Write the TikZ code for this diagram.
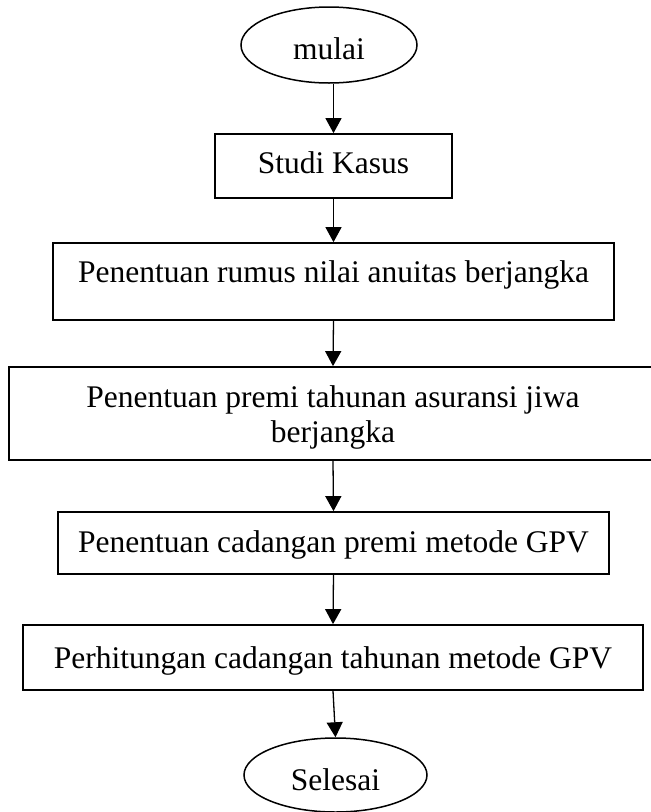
\documentclass[tikz,border=0pt]{standalone}
\usepackage{fontspec}
\setmainfont{Liberation Serif}
\usetikzlibrary{shapes.geometric,arrows.meta}
\tikzset{
  box/.style={draw, line width=1.7pt, inner sep=0pt, align=center,
    font=\fontsize{31.5}{35}\selectfont},
  oval/.style={draw, ellipse, line width=1.5pt, inner sep=0pt,
    font=\fontsize{31.5}{35}\selectfont},
  arr/.style={line width=1.3pt, -{Triangle[width=16pt,length=15pt]}},
}
\begin{document}
\begin{tikzpicture}[x=1pt,y=-1pt]
\useasboundingbox (0,0) rectangle (651,812);
\node[oval, minimum width=176pt, minimum height=76pt, text height=30pt, text depth=2pt] (mulai) at (329,45) {mulai};
\node[box, minimum width=237pt, minimum height=64pt, text height=22pt, text depth=7pt] (studi) at (333.5,166) {Studi Kasus};
\node[box, minimum width=561pt, minimum height=77pt, text height=22pt, text depth=21pt] (rumus) at (333.5,281.5) {Penentuan rumus nilai anuitas berjangka};
\node[box, minimum width=648pt, minimum height=93pt, text height=59pt, text depth=2pt] (premi) at (333,413.5) {Penentuan premi tahunan asuransi jiwa\\berjangka};
\node[box, minimum width=551pt, minimum height=62pt, text height=24pt, text depth=6pt] (cadangan) at (333.5,543) {Penentuan cadangan premi metode GPV};
\node[box, minimum width=620pt, minimum height=65pt, text height=26pt, text depth=5pt] (hitung) at (333,657.5) {Perhitungan cadangan tahunan metode GPV};
\node[oval, minimum width=183pt, minimum height=74pt, text height=32pt, text depth=2pt] (selesai) at (335.5,775) {Selesai};
\draw[arr] (studi.north |- mulai.south) -- (studi.north);
\draw[arr] (studi.south) -- (rumus.north);
\draw[arr] (rumus.south) -- (premi.north);
\draw[arr] (premi.south) -- (cadangan.north);
\draw[arr] (cadangan.south) -- (hitung.north);
\draw[arr] (hitung.south) -- (selesai.north);
\end{tikzpicture}
\end{document}
